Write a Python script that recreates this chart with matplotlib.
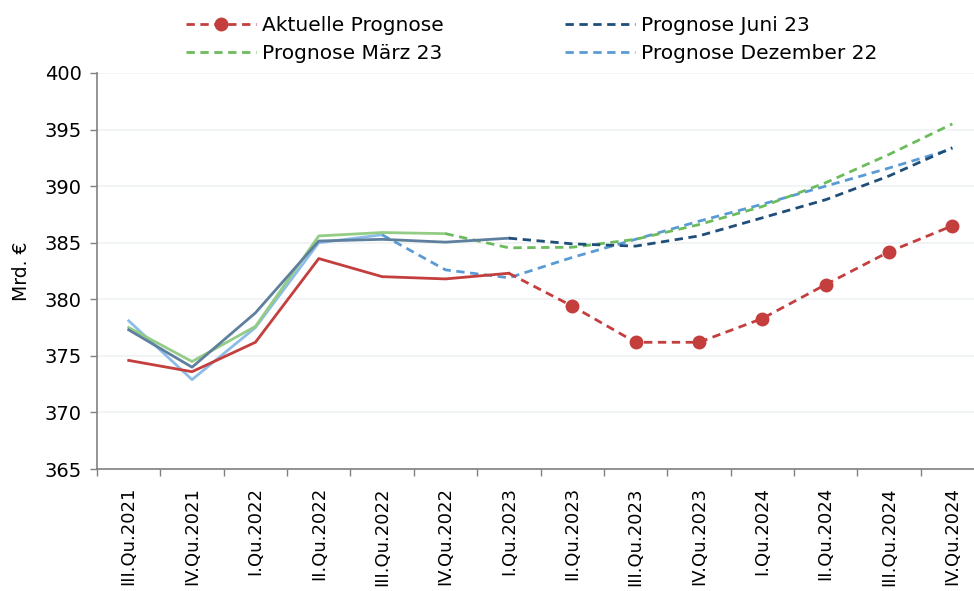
#!/usr/bin/python3

import matplotlib
matplotlib.use('Agg')
import matplotlib.pyplot as plt
from matplotlib.ticker import MultipleLocator, FixedLocator

# quarters on the x axis
quarters = ['III.Qu.2021', 'IV.Qu.2021', 'I.Qu.2022', 'II.Qu.2022', 'III.Qu.2022',
            'IV.Qu.2022', 'I.Qu.2023', 'II.Qu.2023', 'III.Qu.2023', 'IV.Qu.2023',
            'I.Qu.2024', 'II.Qu.2024', 'III.Qu.2024', 'IV.Qu.2024']

# values in Mrd. EUR
aktuell = [374.6, 373.6, 376.2, 383.6, 382.0, 381.8, 382.3,
           379.4, 376.2, 376.2, 378.3, 381.3, 384.2, 386.5]
juni23 = [377.3, 374.0, 378.8, 385.15, 385.3, 385.05, 385.4,
          384.9, 384.7, 385.6, 387.2, 388.8, 390.9, 393.4]
maerz23 = [377.5, 374.5, 377.6, 385.6, 385.9, 385.8,
           384.55, 384.6, 385.3, 386.6, 388.2, 390.3, 392.8, 395.5]
dez22 = [378.1, 372.9, 377.5, 385.0, 385.7,
         382.6, 381.9, 383.7, 385.3, 386.9, 388.4, 390.0, 391.6, 393.3]

# index of the last actual (solid) value per series
last_actual = {'aktuell': 6, 'juni23': 6, 'maerz23': 5, 'dez22': 4}

red = '#c43e3e'
navy = '#1f4e79'
green = '#6cbb5d'
lblue = '#5b9bd5'


def main():
	plt.rcParams['font.family'] = ['DejaVu Sans']
	fig = plt.figure(figsize=(9.74, 5.91), dpi=100)
	ax = fig.add_axes([0.0996, 0.2064, 0.9107, 0.6701])

	x = list(range(len(quarters)))

	def draw(vals, key, color, solid_color, label, marker=None):
		k = last_actual[key]
		ax.plot(x[:k + 1], vals[:k + 1], color=solid_color, lw=2, solid_joinstyle='round')
		ax.plot(x[k:], vals[k:], color=color, lw=2, ls=(0, (3, 2)))
		if marker:
			ax.plot(x[k + 1:], vals[k + 1:], ls='none', marker='o', ms=9, color=color)
		# legend handle only
		ax.plot([], [], color=color, lw=2, ls=(0, (3, 2)), marker=marker, ms=9, label=label)

	draw(dez22, 'dez22', lblue, '#8cbde8', 'Prognose Dezember 22')
	draw(maerz23, 'maerz23', green, '#93cc84', 'Prognose März 23')
	draw(juni23, 'juni23', navy, '#5e7f9e', 'Prognose Juni 23')
	draw(aktuell, 'aktuell', red, red, 'Aktuelle Prognose', marker='o')

	ax.set_xlim(-0.5, len(quarters) - 0.5)
	ax.set_ylim(365, 400)
	ax.yaxis.set_major_locator(MultipleLocator(5))
	ax.grid(axis='y', color='#edf2f2', lw=1.2)
	ax.set_axisbelow(True)

	ax.set_xticks(x)
	ax.set_xticklabels(quarters, rotation=90, va='top', ha='center', fontsize=13)
	ax.xaxis.set_minor_locator(FixedLocator([i - 0.5 for i in range(len(quarters) + 1)]))
	ax.tick_params(axis='x', which='major', length=0, pad=13)
	ax.tick_params(axis='x', which='minor', length=5, color='#808080', width=1)
	ax.tick_params(axis='y', length=5, color='#808080', width=1, labelsize=14, pad=6)

	for s in ['top', 'right']:
		ax.spines[s].set_visible(False)
	for s in ['left', 'bottom']:
		ax.spines[s].set_color('#808080')
		ax.spines[s].set_linewidth(1.2)

	ax.set_ylabel('Mrd. €', fontsize=13.5, labelpad=10)

	handles, labels = ax.get_legend_handles_labels()
	order = [labels.index(n) for n in ['Aktuelle Prognose', 'Prognose März 23',
	                                    'Prognose Juni 23', 'Prognose Dezember 22']]
	fig.legend([handles[i] for i in order], [labels[i] for i in order],
	           ncol=2, loc='upper left', bbox_to_anchor=(0.172, 1.004), frameon=False,
	           fontsize=14.5, handlelength=3.5, handletextpad=0.3, columnspacing=6.0,
	           labelspacing=0.45)

	fig.savefig('out.png', dpi=100)


if __name__ == '__main__':
	main()
